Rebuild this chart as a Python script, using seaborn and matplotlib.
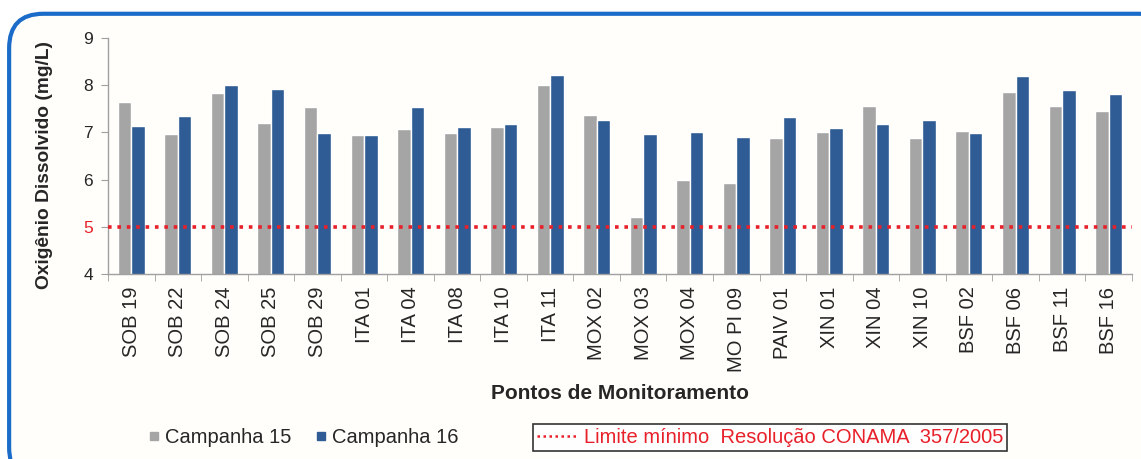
import pandas as pd
import matplotlib.pyplot as plt
import seaborn as sns
from matplotlib.patches import FancyBboxPatch
from matplotlib.lines import Line2D
from matplotlib.ticker import FixedLocator

pontos = ['SOB 19', 'SOB 22', 'SOB 24', 'SOB 25', 'SOB 29', 'ITA 01', 'ITA 04',
          'ITA 08', 'ITA 10', 'ITA 11', 'MOX 02', 'MOX 03', 'MOX 04', 'MO PI 09',
          'PAIV 01', 'XIN 01', 'XIN 04', 'XIN 10', 'BSF 02', 'BSF 06', 'BSF 11', 'BSF 16']
campanha_15 = [7.64, 6.96, 7.83, 7.21, 7.55, 6.95, 7.07, 6.98, 7.12, 8.00, 7.36,
               5.21, 5.99, 5.93, 6.88, 7.00, 7.56, 6.88, 7.03, 7.86, 7.56, 7.45]
campanha_16 = [7.14, 7.35, 8.00, 7.93, 6.99, 6.94, 7.55, 7.11, 7.17, 8.21, 7.26,
               6.96, 7.00, 6.90, 7.32, 7.09, 7.17, 7.26, 6.98, 8.19, 7.90, 7.81]
limite = 5

df = pd.DataFrame({'Ponto': pontos * 2,
                   'OD': campanha_15 + campanha_16,
                   'Campanha': ['Campanha 15'] * len(pontos) + ['Campanha 16'] * len(pontos)})

sns.set_style('white')
plt.rcParams['font.family'] = ['Liberation Sans', 'DejaVu Sans']

fig = plt.figure(figsize=(11.41, 4.59), dpi=100)
fig.patch.set_facecolor('white')

# rounded blue frame around the whole chart
frame = FancyBboxPatch((0.008, -0.05), 1.02, 1.02, transform=fig.transFigure,
                       boxstyle='round,pad=0,rounding_size=0.03', mutation_aspect=2.5,
                       facecolor='#FFFEFB', edgecolor='#1B6CC8', linewidth=3, zorder=-10)
fig.patches.append(frame)

ax = fig.add_axes([0.0947, 0.403, 0.8973, 0.514])
ax.set_facecolor('none')

sns.barplot(data=df, x='Ponto', y='OD', hue='Campanha', ax=ax, width=0.58, gap=0,
            palette={'Campanha 15': '#A5A5A5', 'Campanha 16': '#2F5C94'},
            saturation=1, legend=False)
ax.axhline(limite, color='#E8202A', linestyle=(0, (1, 1.6)), linewidth=2.6, zorder=5)

ax.set_ylim(4, 9)
ax.set_xlim(-0.5, len(pontos) - 0.5)
ax.set_yticks([4, 5, 6, 7, 8, 9])
ax.tick_params(axis='y', labelsize=12.5, length=5, color='#A0A0A0', direction='out', left=True, pad=6)
for lbl in ax.get_yticklabels():
    if lbl.get_text() == '5':
        lbl.set_color('#E8202A')

ax.set_xticks(range(len(pontos)))
ax.set_xticklabels(pontos, rotation=90, fontsize=14.5)
ax.tick_params(axis='x', which='major', length=0, pad=9)
ax.xaxis.set_minor_locator(FixedLocator([i + 0.5 for i in range(-1, len(pontos))]))
ax.tick_params(axis='x', which='minor', length=5, color='#A0A0A0', bottom=True, direction='out')

for s in ['top', 'right']:
    ax.spines[s].set_visible(False)
for s in ['left', 'bottom']:
    ax.spines[s].set_color('#A0A0A0')
    ax.spines[s].set_linewidth(1)

ax.set_xlabel('Pontos de Monitoramento', fontsize=15, fontweight='bold', labelpad=9)
ax.set_ylabel('Oxigênio Dissolvido (mg/L)', fontsize=13.8, fontweight='bold')
ax.yaxis.set_label_coords(-0.054, 0.46)

h15 = Line2D([], [], marker='s', linestyle='none', color='#A5A5A5', markersize=6)
h16 = Line2D([], [], marker='s', linestyle='none', color='#2F5C94', markersize=6)
leg1 = fig.legend([h15, h16], ['Campanha 15', 'Campanha 16'], loc='center left',
                  bbox_to_anchor=(0.11, 0.047), ncol=2, frameon=False, fontsize=14.5,
                  handletextpad=0.05, columnspacing=1.0, handlelength=1)

hl = Line2D([], [], color='#E8202A', linestyle=(0, (1, 1.4)), linewidth=1.8)
leg2 = fig.legend([hl], ['Limite mínimo  Resolução CONAMA  357/2005'], loc='center',
                  bbox_to_anchor=(0.675, 0.046), frameon=True, fontsize=14.5,
                  fancybox=False, edgecolor='black', handlelength=2.0, handletextpad=0.3,
                  borderpad=0.2, borderaxespad=0)
leg2.get_frame().set_linewidth(1.2)
for t in leg2.get_texts():
    t.set_color('#E8202A')

plt.savefig('out.png', dpi=100)
